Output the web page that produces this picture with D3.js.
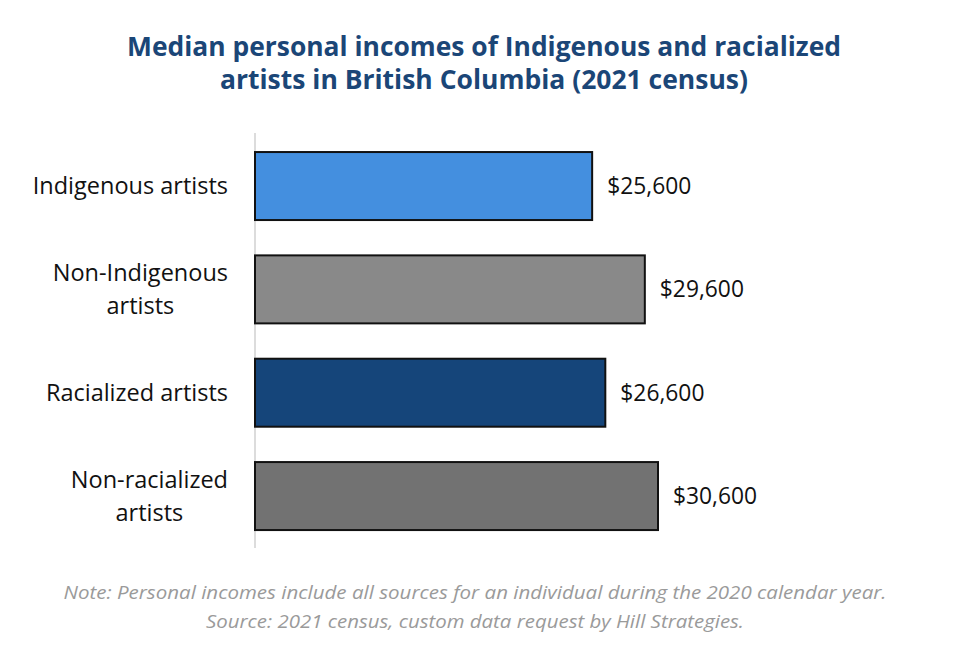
<!DOCTYPE html>
<html>
  <head>
    <style>
    body { margin: 0px; overflow: hidden; background: white; }
    text { font-family: "Open Sans", sans-serif; }
    </style>
    <script src="https://d3js.org/d3.v7.min.js"></script>
  </head>
  <body>
    <svg width="957" height="668"></svg>
    <script>
        // data
        const categories = ["Indigenous artists", "Non-Indigenous\nartists", "Racialized artists", "Non-racialized\nartists"];
        const values = [25600, 29600, 26600, 30600];
        const colors = ["#448fdf", "#898989", "#15457a", "#727272"];
        const titleLines = ["Median personal incomes of Indigenous and racialized", "artists in British Columbia (2021 census)"];
        const noteLines = ["Note: Personal incomes include all sources for an individual during the 2020 calendar year.",
                           "Source: 2021 census, custom data request by Hill Strategies."];

        const data = categories.map((c, i) => ({cat: c, value: values[i], color: colors[i]}));

        const svg = d3.select('svg');

        const xScale = d3.scaleLinear()
            .domain([0, 30600])
            .range([255, 658]);

        const yScale = d3.scaleBand()
            .domain(categories)
            .range([116.7, 565.4])
            .padding(0.342);

        // stretch a text element to a target width
        function fit(sel, w) {
            sel.attr('textLength', w).attr('lengthAdjust', 'spacingAndGlyphs');
        }

        //title
        const title = svg.append('g');
        title.selectAll('text').data(titleLines)
            .enter().append('text')
                .attr('x', 484)
                .attr('y', (d, i) => 56 + i * 33)
                .attr('text-anchor', 'middle')
                .attr('font-size', '26px')
                .attr('font-weight', 'bold')
                .attr('fill', '#1b4677')
                .text(d => d);
        fit(title.selectAll('text').filter((d, i) => i == 0), 714);
        fit(title.selectAll('text').filter((d, i) => i == 1), 528);

        //axis line
        svg.append('line')
            .attr('x1', xScale(0)).attr('x2', xScale(0))
            .attr('y1', 133).attr('y2', 548)
            .attr('stroke', '#d0d0d0')
            .attr('stroke-width', 1.5);

        //bars
        svg.selectAll('rect.bar').data(data)
            .enter().append('rect')
                .attr('class', 'bar')
                .attr('x', xScale(0))
                .attr('y', d => yScale(d.cat))
                .attr('width', d => xScale(d.value) - xScale(0))
                .attr('height', yScale.bandwidth())
                .attr('fill', d => d.color)
                .attr('stroke', '#111')
                .attr('stroke-width', 2);

        //value labels
        svg.selectAll('text.val').data(data)
            .enter().append('text')
                .attr('class', 'val')
                .attr('x', d => xScale(d.value) + 15)
                .attr('y', d => yScale(d.cat) + yScale.bandwidth() / 2)
                .attr('dy', '0.35em')
                .attr('font-size', '22.8px')
                .attr('fill', '#111')
                .text(d => d3.format('$,')(d.value));

        //category labels
        const labelRight = 228;
        const lineH = 33;
        data.forEach(d => {
            const lines = d.cat.split('\n');
            const cy = yScale(d.cat) + yScale.bandwidth() / 2;
            const g = svg.append('g');
            const texts = g.selectAll('text').data(lines)
                .enter().append('text')
                    .attr('y', (t, i) => cy + (i - (lines.length - 1) / 2) * lineH)
                    .attr('dy', '0.35em')
                    .attr('font-size', '23.5px')
                    .attr('fill', '#111')
                    .attr('text-anchor', 'middle')
                    .text(t => t);
            let maxW = 0;
            texts.each(function() { maxW = Math.max(maxW, this.getComputedTextLength()); });
            texts.attr('x', labelRight - maxW / 2);
        });

        //note
        const note = svg.append('g');
        note.selectAll('text').data(noteLines)
            .enter().append('text')
                .attr('x', 475)
                .attr('y', (d, i) => 599 + i * 29)
                .attr('text-anchor', 'middle')
                .attr('font-size', '18px')
                .attr('font-style', 'italic')
                .attr('fill', '#9a9a9a')
                .text(d => d);
        fit(note.selectAll('text').filter((d, i) => i == 0), 823);
        fit(note.selectAll('text').filter((d, i) => i == 1), 538);
    </script>
  </body>
</html>
